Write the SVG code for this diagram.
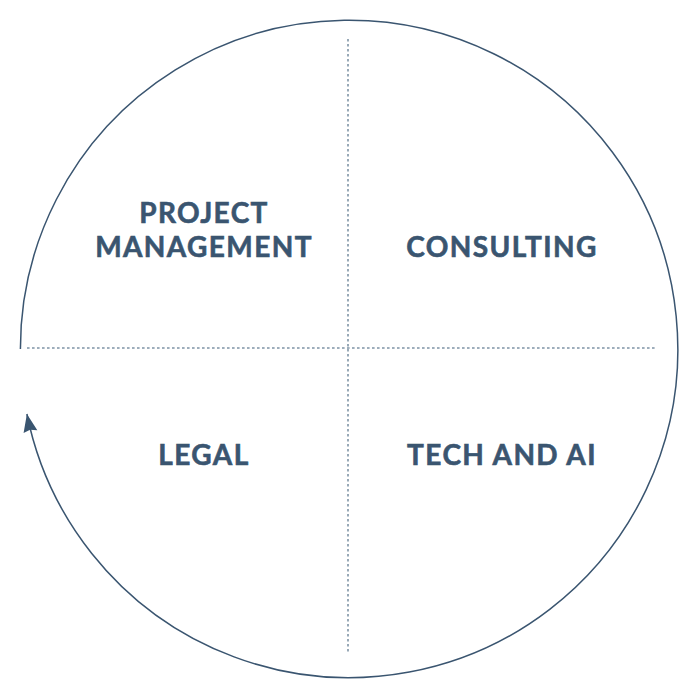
<svg xmlns="http://www.w3.org/2000/svg" width="700" height="700" viewBox="0 0 700 700">
<style>
.lbl{font-family:"Lato","Liberation Sans",sans-serif;font-weight:700;font-size:28px;fill:#3a5570;stroke:#3a5570;stroke-width:0.6;letter-spacing:1.4px;text-anchor:middle}
.div{stroke:#7f94a6;stroke-width:1.6;stroke-dasharray:2.6 2.4;fill:none}
.ring{stroke:#3a5570;stroke-width:1.5;fill:none}
</style>
<defs>
<marker id="ah" markerUnits="userSpaceOnUse" viewBox="-19 -8 20 16" markerWidth="20" markerHeight="16" refX="0" refY="0" orient="auto">
<path d="M0,0 L-18,-7 L-16,0 L-18,7 z" fill="#3a5570"/>
</marker>
</defs>
<rect width="700" height="700" fill="#ffffff"/>
<g id="connectors">
<path class="ring" d="M 20.4 349 A 328.7 328.7 0 1 1 26.9 414" marker-end="url(#ah)"/>
<line class="div" x1="27" y1="348" x2="655" y2="348"/>
<line class="div" x1="348" y1="39" x2="348" y2="653"/>
</g>
<g id="project-management"><text class="lbl" x="204" y="223">PROJECT</text><text class="lbl" x="204" y="257">MANAGEMENT</text></g>
<g id="consulting"><text class="lbl" x="502" y="257">CONSULTING</text></g>
<g id="legal"><text class="lbl" x="204" y="465">LEGAL</text></g>
<g id="tech-and-ai"><text class="lbl" x="502" y="465">TECH AND AI</text></g>
</svg>
